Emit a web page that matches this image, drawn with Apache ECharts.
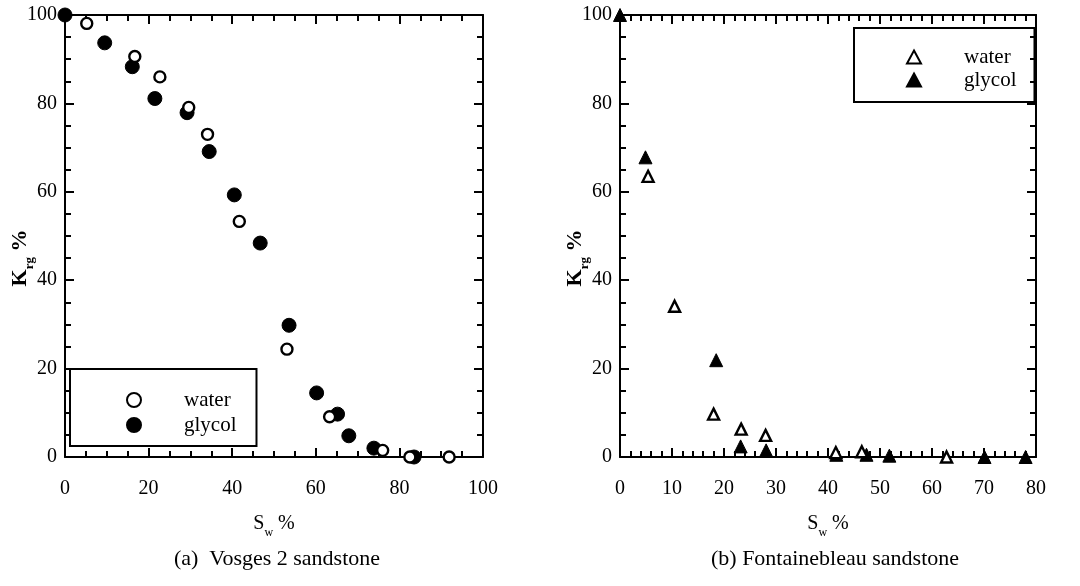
<!DOCTYPE html>
<html>
<head>
<meta charset="utf-8">
<script src="https://cdn.jsdelivr.net/npm/echarts@6/dist/echarts.min.js"></script>
<style>
  html, body { margin: 0; padding: 0; background: #fff; }
  #chart { width: 1080px; height: 586px; }
</style>
</head>
<body>
<div id="chart"></div>
<script>
// (a) Vosges 2 sandstone : [Sw %, Krg %]
var vosgesWater = [
  [5.2, 98.1], [16.7, 90.6], [22.7, 86.0], [29.6, 79.1], [34.1, 73.0],
  [41.7, 53.3], [53.1, 24.4], [63.3, 9.1], [76.0, 1.5], [82.5, 0], [91.9, 0]
];
var vosgesGlycol = [
  [0, 100], [9.5, 93.7], [16.1, 88.3], [21.5, 81.1], [29.2, 77.9], [34.5, 69.1],
  [40.5, 59.3], [46.7, 48.4], [53.6, 29.8], [60.2, 14.5], [65.2, 9.7], [67.9, 4.8],
  [73.9, 2.0], [83.5, 0]
];
// (b) Fontainebleau sandstone
var fontWater = [
  [5.4, 63.5], [10.5, 34.1], [18.0, 9.7], [23.3, 6.3], [28.0, 4.9],
  [41.5, 1.0], [46.5, 1.2], [62.8, 0]
];
var fontGlycol = [
  [0, 100], [4.9, 67.8], [18.5, 21.9], [23.2, 2.4], [28.1, 1.5],
  [41.6, 0.5], [47.4, 0.5], [51.8, 0.3], [70.1, 0], [78.0, 0]
];
var captions = ["(a)  Vosges 2 sandstone", "(b) Fontainebleau sandstone"];

var font = "Liberation Serif";
var myChart = echarts.init(document.getElementById("chart"));

function xAx(grid, max, interval, split, pos) {
  return {
    type: "value", gridIndex: grid, min: 0, max: max, interval: interval, position: pos,
    axisLine: { show: true, onZero: false, lineStyle: { color: "#000", width: 2 } },
    axisTick: { show: true, inside: true, length: 9, lineStyle: { color: "#000", width: 2 } },
    minorTick: { show: true, splitNumber: split, length: 6, lineStyle: { color: "#000", width: 2 } },
    splitLine: { show: false },
    axisLabel: { show: pos === "bottom", margin: 22, color: "#000", fontFamily: font, fontSize: 20 },
    name: pos === "bottom" ? "S{sub|w} %" : "",
    nameLocation: "middle", nameGap: 52,
    nameTextStyle: {
      color: "#000", fontFamily: font, fontSize: 20, lineHeight: 30,
      rich: { sub: { fontSize: 12, fontFamily: font, verticalAlign: "bottom", lineHeight: 12 } }
    }
  };
}
function yAx(grid, pos) {
  return {
    type: "value", gridIndex: grid, min: 0, max: 100, interval: 20, position: pos,
    axisLine: { show: true, onZero: false, lineStyle: { color: "#000", width: 2 } },
    axisTick: { show: true, inside: true, length: 9, lineStyle: { color: "#000", width: 2 } },
    minorTick: { show: true, splitNumber: 4, length: 6, lineStyle: { color: "#000", width: 2 } },
    splitLine: { show: false },
    axisLabel: { show: pos === "left", margin: 8, color: "#000", fontFamily: font, fontSize: 20 },
    name: pos === "left" ? "K{sub|rg} %{sp| }" : "",
    nameLocation: "middle", nameGap: 29, nameRotate: 90, nameMoveOverlap: false,
    nameTextStyle: {
      color: "#000", fontFamily: font, fontSize: 22, fontWeight: "bold", lineHeight: 32,
      rich: {
        sub: { fontSize: 13, fontFamily: font, fontWeight: "bold", verticalAlign: "bottom", lineHeight: 13 },
        sp: { width: 44 }
      }
    }
  };
}

var openStyle = { color: "#fff", borderColor: "#000", borderWidth: 2.4, opacity: 1 };
var fillStyle = { color: "#000", borderColor: "#000", borderWidth: 1, opacity: 1 };

var option = {
  animation: false,
  backgroundColor: "#fff",
  title: [
    { text: captions[0], left: 272, top: 543, textAlign: "center",
      textStyle: { color: "#000", fontFamily: font, fontSize: 22, fontWeight: "normal" } },
    { text: captions[1], left: 830, top: 543, textAlign: "center",
      textStyle: { color: "#000", fontFamily: font, fontSize: 22, fontWeight: "normal" } }
  ],
  legend: [
    { data: ["water (a)", "glycol (a)"], orient: "vertical", left: 70, top: 369,
      formatter: function (n) { return n.split(" ")[0]; },
      itemWidth: 14, itemHeight: 14, itemGap: 3,
      padding: [20, 20, 10, 56], borderColor: "#000", borderWidth: 2,
      textStyle: { color: "#000", fontFamily: font, fontSize: 21, lineHeight: 22, padding: [0, 0, 0, 38] } },
    { data: ["water (b)", "glycol (b)"], orient: "vertical", left: 854, top: 28,
      formatter: function (n) { return n.split(" ")[0]; },
      itemWidth: 14, itemHeight: 13, itemGap: 1,
      padding: [18, 18, 11, 52], borderColor: "#000", borderWidth: 2,
      textStyle: { color: "#000", fontFamily: font, fontSize: 21, lineHeight: 22, padding: [0, 0, 0, 38] } }
  ],
  grid: [
    { left: 65, top: 15, width: 418, height: 442, outerBoundsMode: "none", containLabel: false },
    { left: 620, top: 15, width: 416, height: 442, outerBoundsMode: "none", containLabel: false }
  ],
  xAxis: [
    xAx(0, 100, 20, 4, "bottom"), xAx(0, 100, 20, 4, "top"),
    xAx(1, 80, 10, 5, "bottom"), xAx(1, 80, 10, 5, "top")
  ],
  yAxis: [
    yAx(0, "left"), yAx(0, "right"),
    yAx(1, "left"), yAx(1, "right")
  ],
  series: [
    { name: "water (a)", type: "scatter", xAxisIndex: 0, yAxisIndex: 0, symbol: "circle",
      symbolSize: 11, itemStyle: openStyle, data: vosgesWater, z: 3 },
    { name: "glycol (a)", type: "scatter", xAxisIndex: 0, yAxisIndex: 0, symbol: "circle",
      symbolSize: 14, itemStyle: fillStyle, data: vosgesGlycol, z: 2 },
    { name: "water (b)", type: "scatter", xAxisIndex: 2, yAxisIndex: 2, symbol: "triangle",
      symbolSize: 11, itemStyle: openStyle, data: fontWater, z: 3 },
    { name: "glycol (b)", type: "scatter", xAxisIndex: 2, yAxisIndex: 2, symbol: "triangle",
      symbolSize: 13, itemStyle: fillStyle, data: fontGlycol, z: 2 }
  ]
};
myChart.setOption(option);
</script>
</body>
</html>
